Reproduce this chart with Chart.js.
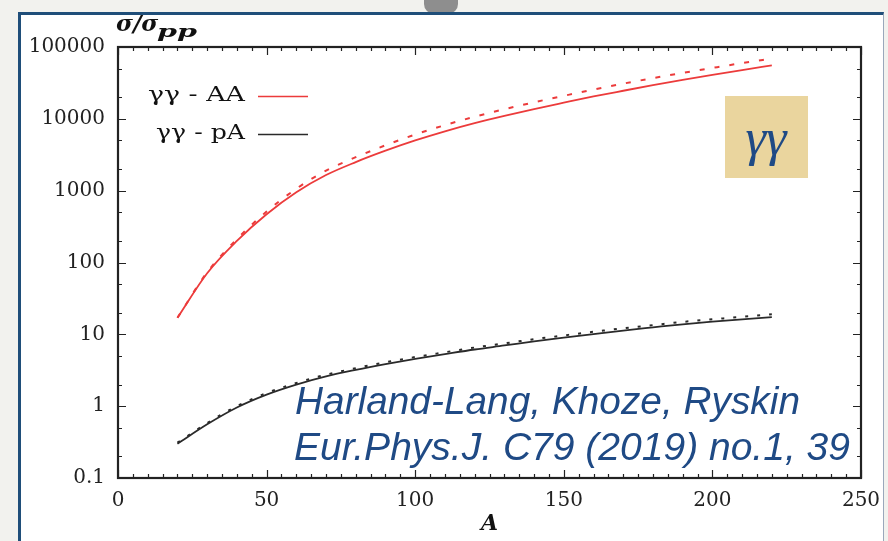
<!DOCTYPE html>
<html>
<head>
<meta charset="utf-8">
<script src="https://cdn.jsdelivr.net/npm/chart.js@4/dist/chart.umd.min.js"></script>
<style>
  html, body { margin: 0; padding: 0; }
  body { width: 888px; height: 541px; background: #f2f2ee; position: relative; overflow: hidden; }
  #panel { position: absolute; left: 18px; top: 12px; width: 866px; height: 540px; background: #fff;
           border-left: 3px solid #1f4e79; border-top: 3px solid #1f4e79; border-right: 1px solid #9aa8bb; box-sizing: border-box; }
  #blob { position: absolute; left: 424px; top: -10px; width: 34px; height: 24px; background: #8e8e8e; border-radius: 10px; }
  #wrap { position: absolute; left: 0; top: 0; width: 888px; height: 541px; }
</style>
</head>
<body>
<div id="blob"></div>
<div id="panel"></div>
<div id="wrap"><canvas id="chart" width="888" height="541"></canvas></div>
<script>
// values (sigma / sigma_pp vs A)
const massNumbers = [20, 30, 40, 50, 60, 70, 80, 90, 100, 110, 120, 130, 140, 150, 160, 170, 180, 190, 200, 210, 220];
const aaSolid  = [17, 71, 200, 470, 950, 1650, 2500, 3600, 5000, 6700, 8700, 11000, 13700, 16800, 20500, 24600, 29400, 34800, 40900, 47800, 55300];
const aaDashed = [17, 73, 212, 512, 1064, 1900, 2925, 4280, 6050, 8170, 10700, 13600, 17000, 20900, 25600, 30900, 36900, 43600, 51100, 59700, 69100];
const paSolid  = [0.30, 0.56, 0.96, 1.45, 2.0, 2.6, 3.2, 3.85, 4.55, 5.3, 6.15, 7.0, 8.0, 9.0, 10.1, 11.3, 12.5, 13.8, 15.0, 16.2, 17.4];
const paDashed = [0.31, 0.58, 1.0, 1.52, 2.1, 2.74, 3.38, 4.08, 4.83, 5.63, 6.55, 7.48, 8.56, 9.65, 10.85, 12.15, 13.45, 14.9, 16.2, 17.5, 19.1];
const yTicks = [0.1, 1, 10, 100, 1000, 10000, 100000];
const xTicks = [0, 50, 100, 150, 200, 250];

const red = "#ec3b3b";
const dark = "#2a2a2a";
const blue = "#1f4a85";

function pts(ys) {
  return massNumbers.map((a, i) => ({ x: a, y: ys[i] }));
}

// draw text squeezed/stretched to a given width
function fitText(ctx, txt, x, y, width) {
  const w = ctx.measureText(txt).width;
  ctx.save();
  ctx.translate(x, y);
  ctx.scale(width / w, 1);
  ctx.fillText(txt, 0, 0);
  ctx.restore();
}

// Mathematica-like frame with inward ticks
const framePlugin = {
  id: "frame",
  afterDraw(chart) {
    const ctx = chart.ctx;
    const { left, right, top, bottom } = chart.chartArea;
    const x = chart.scales.x, y = chart.scales.y;
    ctx.save();
    ctx.strokeStyle = "#222";
    ctx.lineWidth = 1.2;
    ctx.beginPath();
    for (let v = 0; v <= 250; v += 5) {
      const px = Math.round(x.getPixelForValue(v)) + 0.5;
      const len = v % 50 === 0 ? 8 : 4;
      ctx.moveTo(px, bottom); ctx.lineTo(px, bottom - len);
      ctx.moveTo(px, top); ctx.lineTo(px, top + len);
    }
    for (let d = -1; d <= 5; d++) {
      [1, 2, 5].forEach(m => {
        const v = m * Math.pow(10, d);
        if (v > 100000) return;
        const py = Math.round(y.getPixelForValue(v)) + 0.5;
        const len = m === 1 ? 8 : 4;
        ctx.moveTo(left, py); ctx.lineTo(left + len, py);
        ctx.moveTo(right, py); ctx.lineTo(right - len, py);
      });
    }
    ctx.stroke();
    ctx.lineWidth = 2.2;
    ctx.strokeRect(left, top, right - left, bottom - top);

    // y axis title
    ctx.fillStyle = "#111";
    ctx.textBaseline = "alphabetic";
    ctx.textAlign = "left";
    ctx.font = "bold italic 23px 'DejaVu Serif'";
    ctx.fillText("σ/σ", 116, 31);
    ctx.font = "bold italic 17px 'DejaVu Serif'";
    fitText(ctx, "pp", 157, 37, 40);

    // legend from the solid datasets
    ctx.font = "20px 'DejaVu Serif'";
    ctx.textBaseline = "middle";
    const legendLeft = [148, 156];
    [0, 1].forEach((i, k) => {
      const ds = chart.data.datasets[i];
      const ly = 96 + k * 38;
      ctx.fillStyle = "#111";
      fitText(ctx, ds.label, legendLeft[k], ly, 245 - legendLeft[k]);
      ctx.strokeStyle = ds.borderColor;
      ctx.lineWidth = 1.6;
      ctx.beginPath();
      ctx.moveTo(258, ly + 0.5); ctx.lineTo(308, ly + 0.5);
      ctx.stroke();
    });

    // gamma-gamma box
    ctx.fillStyle = "#ead59e";
    ctx.fillRect(725, 96, 83, 82);
    ctx.fillStyle = blue;
    ctx.textAlign = "center";
    ctx.textBaseline = "alphabetic";
    ctx.font = "italic 52px 'Liberation Serif'";
    ctx.fillText("γγ", 766, 155);

    // citation
    ctx.textAlign = "left";
    ctx.font = "italic 38px 'Liberation Sans'";
    fitText(ctx, "Harland-Lang, Khoze, Ryskin", 295, 414, 505);
    fitText(ctx, "Eur.Phys.J. C79 (2019) no.1, 39", 294, 460, 556);
    ctx.restore();
  }
};

new Chart(document.getElementById("chart"), {
  type: "line",
  data: {
    datasets: [
      { label: "γγ - AA", data: pts(aaSolid), borderColor: red, borderWidth: 1.8 },
      { label: "γγ - pA", data: pts(paSolid), borderColor: dark, borderWidth: 1.8 },
      { label: "AA dashed", data: pts(aaDashed), borderColor: red, borderWidth: 2, borderDash: [5, 10] },
      { label: "pA dashed", data: pts(paDashed), borderColor: dark, borderWidth: 2, borderDash: [3, 9] }
    ]
  },
  options: {
    responsive: false,
    animation: false,
    devicePixelRatio: 1,
    layout: { padding: { left: 0, top: 47, right: 27, bottom: 0 } },
    elements: { point: { radius: 0 }, line: { cubicInterpolationMode: "monotone", fill: false } },
    plugins: { legend: { display: false }, tooltip: { enabled: false } },
    scales: {
      x: {
        type: "linear", min: 0, max: 250,
        grid: { display: false },
        border: { display: false },
        afterBuildTicks: s => { s.ticks = xTicks.map(v => ({ value: v })); },
        afterFit: s => { s.height = 63; },
        ticks: { color: "#222", padding: 3, maxRotation: 0, font: { family: "DejaVu Serif", size: 20 } },
        title: { display: true, text: "A", color: "#111", padding: { top: 0, bottom: 4 },
                 font: { family: "DejaVu Serif", size: 22, style: "italic", weight: "bold" } }
      },
      y: {
        type: "logarithmic", min: 0.1, max: 100000,
        grid: { display: false },
        border: { display: false },
        afterBuildTicks: s => { s.ticks = yTicks.map(v => ({ value: v })); },
        afterFit: s => { s.width = 118; },
        ticks: {
          color: "#222", padding: 5, font: { family: "DejaVu Serif", size: 20 },
          callback: v => String(v)
        }
      }
    }
  },
  plugins: [framePlugin]
});
</script>
</body>
</html>
